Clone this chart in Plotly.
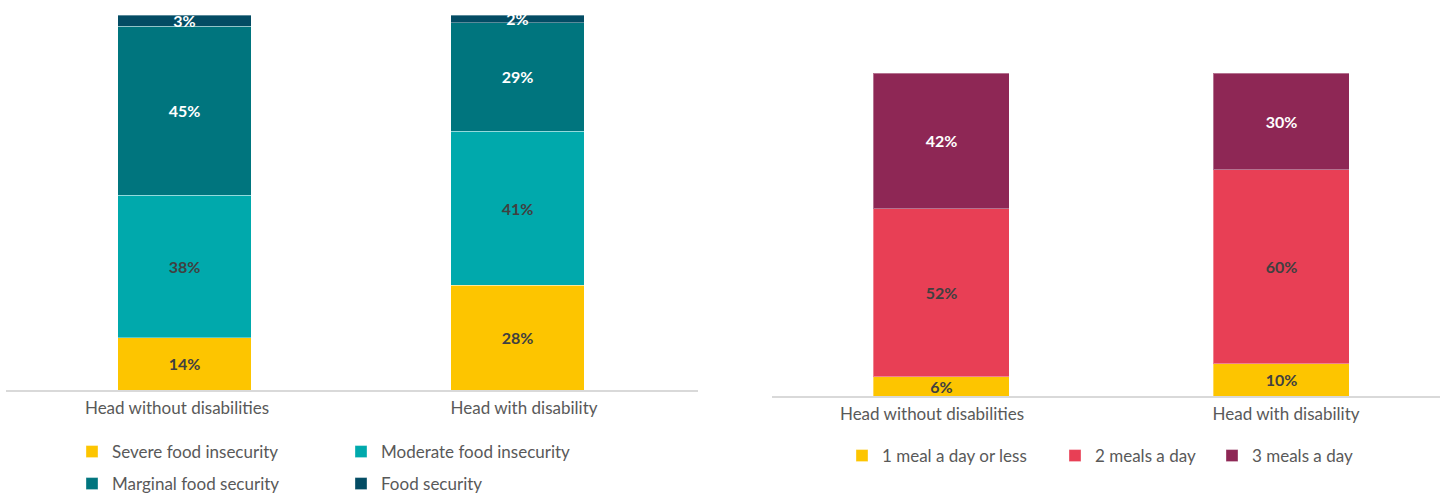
import plotly.graph_objects as go

categories = ["Head without disabilities", "Head with disability"]

# left chart: food security
fs_names = ["Severe food insecurity", "Moderate food insecurity",
            "Marginal food security", "Food security"]
fs_values = [
    [14, 28],
    [38, 41],
    [45, 29],
    [3, 2],
]
fs_colors = ["#FDC500", "#00A9AC", "#00757E", "#034C64"]
fs_textcolors = ["#404040", "#404040", "#FFFFFF", "#FFFFFF"]

# right chart: meals per day
meal_names = ["1 meal a day or less", "2 meals a day", "3 meals a day"]
meal_values = [
    [6, 10],
    [52, 60],
    [42, 30],
]
meal_colors = ["#FDC500", "#E83F55", "#8E2755"]
meal_textcolors = ["#404040", "#404040", "#FFFFFF"]

FONT = "Lato"
W, H = 1440, 493

# one legend per entry so each can sit where the original puts it (px: x of box, y of text centre)
legend_pos = [(72, 452), (341, 452), (72, 484), (341, 484),
              (842, 456), (1055, 456), (1212, 456)]
legend_ids = ["legend"] + [f"legend{i}" for i in range(2, len(legend_pos) + 1)]

fig = go.Figure()

k = 0
for name, vals, col, tcol in zip(fs_names, fs_values, fs_colors, fs_textcolors):
    fig.add_trace(go.Bar(
        x=categories, y=vals, name=name, xaxis="x", yaxis="y",
        marker=dict(color=col, line=dict(color="rgba(255,255,255,0.35)", width=1)),
        text=[f"{v}%" for v in vals], textposition="inside", insidetextanchor="middle",
        constraintext="none",
        textfont=dict(color=tcol, size=16, family=FONT, weight="bold"),
        legend=legend_ids[k], hoverinfo="skip",
    ))
    k += 1

for name, vals, col, tcol in zip(meal_names, meal_values, meal_colors, meal_textcolors):
    fig.add_trace(go.Bar(
        x=categories, y=vals, name=name, xaxis="x2", yaxis="y2",
        marker=dict(color=col, line=dict(color="rgba(255,255,255,0.35)", width=1)),
        text=[f"{v}%" for v in vals], textposition="inside", insidetextanchor="middle",
        constraintext="none",
        textfont=dict(color=tcol, size=16, family=FONT, weight="bold"),
        legend=legend_ids[k], hoverinfo="skip",
    ))
    k += 1

# category labels sit a little wider apart than the bars in the original,
# so they live on their own overlaying axes carried by empty helper traces
for xa, ya in (("x3", "y"), ("x4", "y2")):
    fig.add_trace(go.Scatter(x=categories, y=[None] * len(categories), xaxis=xa, yaxis=ya,
                             mode="markers", showlegend=False, hoverinfo="skip"))

bar_axis = dict(showgrid=False, zeroline=False, showline=True, linecolor="#D9D9D9",
                linewidth=2, ticks="", showticklabels=False)
label_axis = dict(type="category", showgrid=False, zeroline=False, showline=False, ticks="",
                  ticklabelstandoff=6, tickfont=dict(size=17, color="#595959", family=FONT))

legends = {}
for lid, (lx, ly) in zip(legend_ids, legend_pos):
    legends[lid] = dict(orientation="h", x=lx / W, xanchor="left", y=(H - ly) / H, yanchor="middle",
                        bgcolor="rgba(0,0,0,0)", font=dict(size=17, color="#595959", family=FONT))

left_dom = [6 / W, 698 / W]
right_dom = [772 / W, 1.0]

fig.update_layout(
    width=W, height=H,
    margin=dict(l=0, r=0, t=0, b=0, autoexpand=False),
    paper_bgcolor="white", plot_bgcolor="white",
    barmode="stack", bargap=0.6,
    font=dict(family=FONT, color="#595959"),
    showlegend=True,
    xaxis=dict(domain=left_dom, range=[-0.536, 1.542], anchor="y", **bar_axis),
    yaxis=dict(domain=[(H - 390) / H, (H - 15) / H], range=[0, 100], visible=False, anchor="x"),
    xaxis2=dict(domain=right_dom, range=[-0.4985, 1.4662], anchor="y2", **bar_axis),
    yaxis2=dict(domain=[(H - 396) / H, (H - 73) / H], range=[0, 100], visible=False, anchor="x2"),
    xaxis3=dict(domain=left_dom, range=[-0.4928, 1.5014], anchor="y", overlaying="x", **label_axis),
    xaxis4=dict(domain=right_dom, range=[-0.452, 1.435], anchor="y2", overlaying="x2", **label_axis),
    **legends,
)

fig.write_html("out.html", config={"displayModeBar": False},
               post_script="document.body.style.margin='0';document.body.style.overflow='hidden';")
